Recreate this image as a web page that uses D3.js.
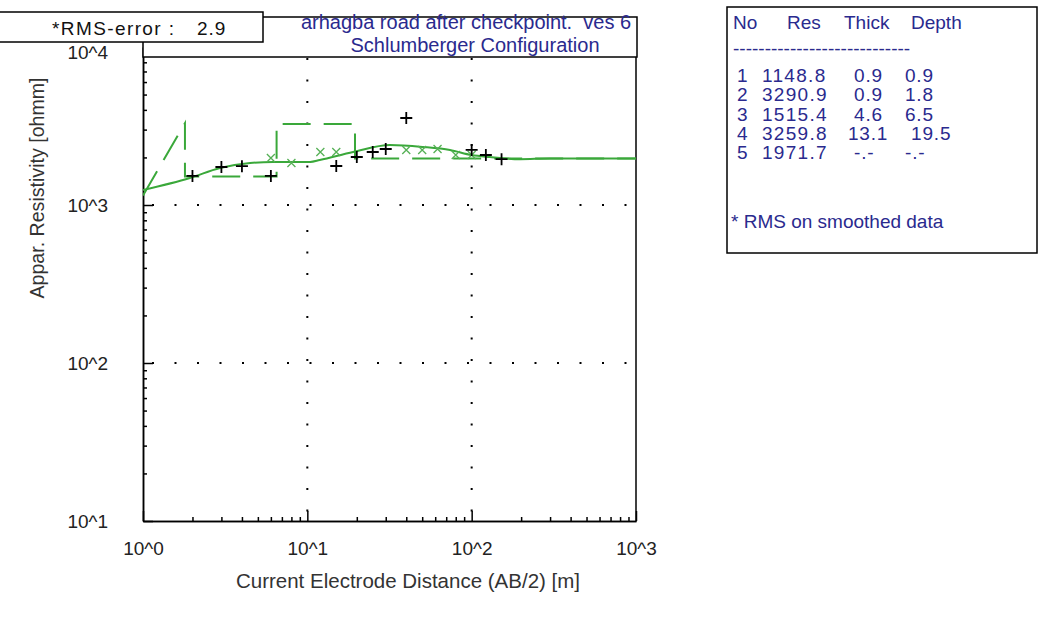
<!DOCTYPE html>
<html>
    <head>
        <title>VES 6 sounding curve</title>
        <meta charset="UTF-8">
        <script type="text/javascript" src="https://cdn.jsdelivr.net/npm/d3@7"></script>
        <style type="text/css">
            body { margin: 0; background: #ffffff; }
            text { font-family: "Liberation Sans", Arial, sans-serif; white-space: pre; }
        </style>
    </head>
    <body>
        <div id="chart"></div>

        <script type="text/javascript">
            // measured data (AB/2 [m], apparent resistivity [ohmm])
            var obsAB = [2, 3, 4, 6, 15, 20, 25, 30, 40, 100, 122, 152];
            var obsRho = [1527, 1740, 1760, 1527, 1766, 2013, 2165, 2262, 3553, 2230, 2072, 1950];

            // smoothed data (green x)
            var smAB = [6, 8, 12, 15, 40, 50, 62, 80, 100];
            var smRho = [1983, 1845, 2165, 2165, 2230, 2230, 2260, 2072, 2072];

            // calculated model curve
            var calcAB = [1, 1.93, 2.94, 4.48, 6.18, 10.4, 11.9, 19, 31.8, 50.6, 73.8, 100, 129, 197, 300, 1000];
            var calcRho = [1245, 1483, 1715, 1844, 1872, 1872, 1927, 2165, 2398, 2330, 2230, 2072, 2012, 1950, 1972, 1972];

            // layered model
            var layerNo = ["1", "2", "3", "4", "5"];
            var layerRes = [1148.8, 3290.9, 1515.4, 3259.8, 1971.7];
            var layerThick = [" 0.9", " 0.9", " 4.6", "13.1", " -.-"];
            var layerDepth = ["0.9", "1.8", "6.5", " 19.5", "-.-"];
            var layerTop = [0.9, 0.9, 1.8, 6.5, 19.5];   // depth of top of each layer

            var xTickVals = [1, 10, 100, 1000];
            var xTickLabels = ["10^0", "10^1", "10^2", "10^3"];
            var yTickVals = [10, 100, 1000, 10000];
            var yTickLabels = ["10^1", "10^2", "10^3", "10^4"];

            var svgW = 1053, svgH = 638;
            var green = "#3aa83a";
            var blue = "#2a2a8e";
            var fs = "19px";

            var x = d3.scaleLog().domain([1, 1000]).range([143, 636]);
            var y = d3.scaleLog().domain([10, 10000]).range([521, 47]);

            var svg = d3.select("#chart").append("svg")
                    .attr("width", svgW)
                    .attr("height", svgH);

            // minor tick values 2..9 in each decade
            var xMinor = [], yMinor = [];
            var i, k;
            for (k = 0; k < 3; k++) {
                for (i = 2; i < 10; i++) {
                    xMinor.push(i * Math.pow(10, k));
                    yMinor.push(i * Math.pow(10, k + 1));
                }
            }

            // dotted grid
            var grid = svg.append("g");
            [10, 100].forEach(function (v) {
                grid.append("line")
                        .attr("x1", x(v)).attr("x2", x(v))
                        .attr("y1", 58).attr("y2", 521)
                        .attr("stroke", "#000").attr("stroke-width", 2)
                        .attr("stroke-dasharray", "2,19.5");
            });
            [100, 1000].forEach(function (v) {
                grid.append("line")
                        .attr("x1", 152).attr("x2", 636)
                        .attr("y1", y(v)).attr("y2", y(v))
                        .attr("stroke", "#000").attr("stroke-width", 2)
                        .attr("stroke-dasharray", "2,20.5");
            });

            // axes, ticks pointing inward
            var xMinorAxis = d3.axisBottom(x).tickValues(xMinor).tickSizeInner(-4).tickSizeOuter(0).tickFormat("");
            var xMajorAxis = d3.axisBottom(x).tickValues(xTickVals).tickSizeInner(-10).tickSizeOuter(0)
                    .tickPadding(21)
                    .tickFormat(function (d, i) {
                        return xTickLabels[i];
                    });
            var yMinorAxis = d3.axisLeft(y).tickValues(yMinor).tickSizeInner(-4).tickSizeOuter(0).tickFormat("");
            var yMajorAxis = d3.axisLeft(y).tickValues(yTickVals).tickSizeInner(-10).tickSizeOuter(0)
                    .tickPadding(35)
                    .tickFormat(function (d, i) {
                        return yTickLabels[i];
                    });

            [xMinorAxis, xMajorAxis].forEach(function (ax) {
                svg.append("g").attr("transform", "translate(0,521)").call(ax);
            });
            var yAxisG;
            [yMinorAxis, yMajorAxis].forEach(function (ax) {
                yAxisG = svg.append("g").attr("transform", "translate(143,0)").call(ax);
            });
            svg.selectAll(".domain, .tick line").attr("stroke", "#000").attr("stroke-width", 1.5);
            svg.selectAll(".tick text")
                    .style("font-size", fs)
                    .style("font-family", "'Liberation Sans', Arial, sans-serif")
                    .attr("fill", "#222");

            // right border
            svg.append("line")
                    .attr("x1", 636).attr("x2", 636).attr("y1", 47).attr("y2", 521)
                    .attr("stroke", "#000").attr("stroke-width", 1.5);

            // axis titles
            svg.append("text")
                    .attr("x", 408).attr("y", 588)
                    .attr("text-anchor", "middle")
                    .style("font-size", "20.5px").attr("fill", "#333")
                    .text("Current Electrode Distance (AB/2) [m]");
            svg.append("text")
                    .attr("transform", "translate(44,188) rotate(-90)")
                    .attr("text-anchor", "middle")
                    .style("font-size", "19.6px").attr("fill", "#333")
                    .text("Appar. Resistivity [ohmm]");

            var plot = svg.append("g");
            svg.append("clipPath").attr("id", "clip")
                    .append("rect").attr("x", 143).attr("y", 47).attr("width", 493).attr("height", 474);
            plot.attr("clip-path", "url(#clip)");

            // layered model as dashed step line: each layer's value until next depth
            var stepPts = [[1, layerRes[0]], [layerTop[2], layerRes[1]]];
            for (i = 2; i < layerRes.length; i++) {
                stepPts.push([layerTop[i], layerRes[i]]);
                stepPts.push([i + 1 < layerTop.length ? layerTop[i + 1] : 1000, layerRes[i]]);
            }
            plot.append("path")
                    .datum(stepPts)
                    .attr("d", d3.line().x(function (d) { return x(d[0]); }).y(function (d) { return y(d[1]); }))
                    .attr("fill", "none")
                    .attr("stroke", green).attr("stroke-width", 2)
                    .attr("stroke-dasharray", "28,13");

            // calculated curve
            plot.append("path")
                    .datum(calcAB.map(function (d, i) { return [d, calcRho[i]]; }))
                    .attr("d", d3.line().curve(d3.curveMonotoneX)
                            .x(function (d) { return x(d[0]); })
                            .y(function (d) { return y(d[1]); }))
                    .attr("fill", "none")
                    .attr("stroke", green).attr("stroke-width", 2);

            // smoothed data x marks
            plot.selectAll(".sm")
                    .data(smAB.map(function (d, i) { return [d, smRho[i]]; }))
                    .enter()
                    .append("path")
                    .attr("d", function (d) {
                        var cx = x(d[0]), cy = y(d[1]), s = 4;
                        return "M" + (cx - s) + "," + (cy - s) + "L" + (cx + s) + "," + (cy + s) +
                                "M" + (cx - s) + "," + (cy + s) + "L" + (cx + s) + "," + (cy - s);
                    })
                    .attr("stroke", "#55b055").attr("stroke-width", 1.3);

            // observed data + marks
            plot.selectAll(".obs")
                    .data(obsAB.map(function (d, i) { return [d, obsRho[i]]; }))
                    .enter()
                    .append("path")
                    .attr("d", function (d) {
                        var cx = x(d[0]), cy = y(d[1]), s = 6;
                        return "M" + (cx - s) + "," + cy + "L" + (cx + s) + "," + cy +
                                "M" + cx + "," + (cy - s) + "L" + cx + "," + (cy + s);
                    })
                    .attr("stroke", "#000").attr("stroke-width", 1.8);

            // title box
            svg.append("rect")
                    .attr("x", 143).attr("y", 17).attr("width", 494).attr("height", 40)
                    .attr("fill", "#fff").attr("stroke", "#000").attr("stroke-width", 1.5);
            svg.append("text").attr("x", 466).attr("y", 29).attr("text-anchor", "middle")
                    .style("font-size", "20px").attr("fill", blue)
                    .text("arhagba road after checkpoint.  ves 6");
            svg.append("text").attr("x", 475).attr("y", 52).attr("text-anchor", "middle")
                    .style("font-size", "20px").attr("fill", blue)
                    .text("Schlumberger Configuration");

            // rms box
            svg.append("rect")
                    .attr("x", -2).attr("y", 12).attr("width", 265).attr("height", 30)
                    .attr("fill", "#fff").attr("stroke", "#000").attr("stroke-width", 1.5);
            svg.append("text").attr("x", 52).attr("y", 35)
                    .style("font-size", "19px").style("letter-spacing", "1.4px").attr("fill", "#111")
                    .text("*RMS-error :");
            svg.append("text").attr("x", 197).attr("y", 35)
                    .style("font-size", "19px").style("letter-spacing", "1px").attr("fill", "#111")
                    .text("2.9");

            // keep the 10^4 label just under the rms box
            yAxisG.selectAll(".tick text").filter(function (d) { return d === 10000; })
                    .attr("dy", "0.62em");

            // model table
            var tb = svg.append("g");
            tb.append("rect")
                    .attr("x", 727).attr("y", 7).attr("width", 310).attr("height", 246)
                    .attr("fill", "#fff").attr("stroke", "#000").attr("stroke-width", 1.5);
            var hdr = [["No", 733], ["Res", 787], ["Thick", 844], ["Depth", 911]];
            hdr.forEach(function (h) {
                tb.append("text").attr("x", h[1]).attr("y", 29)
                        .style("font-size", fs).attr("fill", blue).text(h[0]);
            });
            tb.append("text").attr("x", 733).attr("y", 55)
                    .style("font-size", fs).attr("fill", blue)
                    .text("----------------------------");
            layerRes.forEach(function (r, i) {
                var yy = 82 + i * 19.3;
                var row = tb.append("g");
                row.append("text").attr("x", 737).attr("y", yy).text(layerNo[i]);
                row.append("text").attr("x", 762).attr("y", yy).style("letter-spacing", "1.3px").text(r.toFixed(1));
                row.append("text").attr("x", 848).attr("y", yy).style("letter-spacing", "0.8px").text(layerThick[i]);
                row.append("text").attr("x", 905).attr("y", yy).style("letter-spacing", "0.8px").text(layerDepth[i]);
                row.selectAll("text").style("font-size", fs).attr("fill", blue);
            });
            tb.append("text").attr("x", 731).attr("y", 228)
                    .style("font-size", fs).attr("fill", blue)
                    .text("* RMS on smoothed data");
        </script>
    </body>
</html>
